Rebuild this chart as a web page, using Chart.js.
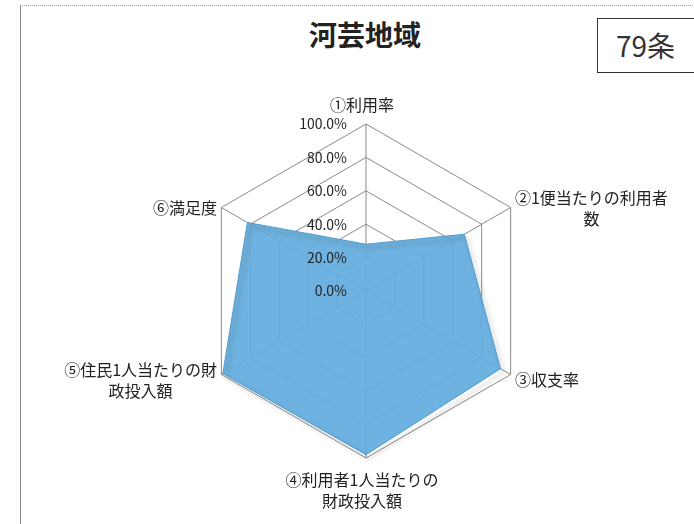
<!DOCTYPE html>
<html lang="ja">
<head>
    <meta charset="UTF-8">
    <title>河芸地域</title>
    <script src="https://cdn.jsdelivr.net/npm/chart.js"></script>
    <style>
        body { margin: 0; background: #fff; font-family: "Noto Sans CJK JP", sans-serif; }
        #wrap { position: relative; width: 694px; height: 524px; overflow: hidden; }
        #frame { position: absolute; left: 20px; top: 5px; width: 700px; height: 530px;
                 border-left: 1px solid #888; border-top: 1px dotted #999; }
        #title { position: absolute; left: 0; width: 730px; top: 14px; text-align: center;
                 font-size: 28px; font-weight: bold; color: #222; }
        #count { position: absolute; left: 597px; top: 18px; width: 110px; height: 55px;
                 border: 1px solid #333; font-size: 28px; color: #333; line-height: 53px;
                 padding-left: 18px; box-sizing: border-box; }
        canvas { position: absolute; left: 0; top: 0; }
    </style>
</head>
<body>
<div id="wrap">
    <div id="frame"></div>
    <div id="title">河芸地域</div>
    <div id="count">79条</div>
    <canvas id="radar" width="694" height="524"></canvas>
</div>
<script>
    // 指標名（複数行）
    const labels = [
        ["①利用率"],
        ["②1便当たりの利用者", "数"],
        ["③収支率"],
        ["④利用者1人当たりの", "財政投入額"],
        ["⑤住民1人当たりの財", "政投入額"],
        ["⑥満足度"]
    ];
    // 達成率（%）
    const values = [28, 68, 93, 98, 99, 82];
    const tickValues = [0, 20, 40, 60, 80, 100];

    const fontJP = '"Noto Sans CJK JP", sans-serif';

    // 影
    const shadowPlugin = {
        id: "shadow",
        beforeDatasetDraw(chart) {
            const c = chart.ctx;
            c.save();
            c.shadowColor = "rgba(80,80,80,0.55)";
            c.shadowOffsetX = 3;
            c.shadowOffsetY = 4;
            c.shadowBlur = 4;
        },
        afterDatasetDraw(chart) {
            chart.ctx.restore();
        }
    };

    // 目盛ラベルと項目ラベルを描く
    const labelPlugin = {
        id: "labels",
        afterDraw(chart) {
            const c = chart.ctx;
            const r = chart.scales.r;
            c.save();
            c.fillStyle = "#222";
            c.font = "14px " + fontJP;
            c.textAlign = "right";
            c.textBaseline = "middle";
            tickValues.forEach(v => {
                const d = r.getDistanceFromCenterForValue(v);
                c.fillText(v.toFixed(1) + "%", r.xCenter - 19, r.yCenter - d);
            });

            c.font = "16px " + fontJP;
            c.fillStyle = "#222";
            const lh = 21;
            labels.forEach((lines, i) => {
                const p = r.getPointPosition(i, r.drawingArea + 5);
                const w = Math.max(...lines.map(s => c.measureText(s).width));
                const h = lines.length * lh;
                let cx, top;
                const dx = p.x - r.xCenter;
                if (Math.abs(dx) < 2) {
                    cx = p.x - 4;
                    top = p.y < r.yCenter ? p.y - h - 4 : p.y + 6;
                } else if (dx > 0) {
                    cx = p.x + w / 2;
                    top = p.y - h / 2 + 3;
                } else {
                    cx = p.x - w / 2;
                    top = p.y - h / 2 + 3;
                }
                c.textAlign = "center";
                lines.forEach((s, k) => c.fillText(s, cx, top + lh * k + lh / 2));
            });
            c.restore();
        }
    };

    new Chart(document.getElementById("radar"), {
        type: "radar",
        data: {
            labels: labels,
            datasets: [{
                data: values,
                backgroundColor: "rgba(98,172,222,0.93)",
                borderColor: "rgba(80,155,208,1)",
                borderWidth: 1,
                pointRadius: 0,
                fill: true
            }]
        },
        options: {
            responsive: false,
            animation: false,
            layout: { padding: { left: 100, right: 62, top: 124, bottom: 66 } },
            plugins: { legend: { display: false }, tooltip: { enabled: false } },
            scales: {
                r: {
                    min: 0,
                    max: 100,
                    ticks: { display: false, stepSize: 20 },
                    pointLabels: { display: false },
                    grid: { color: "#8a8a8a", lineWidth: 1 },
                    angleLines: { color: "#8a8a8a", lineWidth: 1 }
                }
            }
        },
        plugins: [shadowPlugin, labelPlugin]
    });
</script>
</body>
</html>
